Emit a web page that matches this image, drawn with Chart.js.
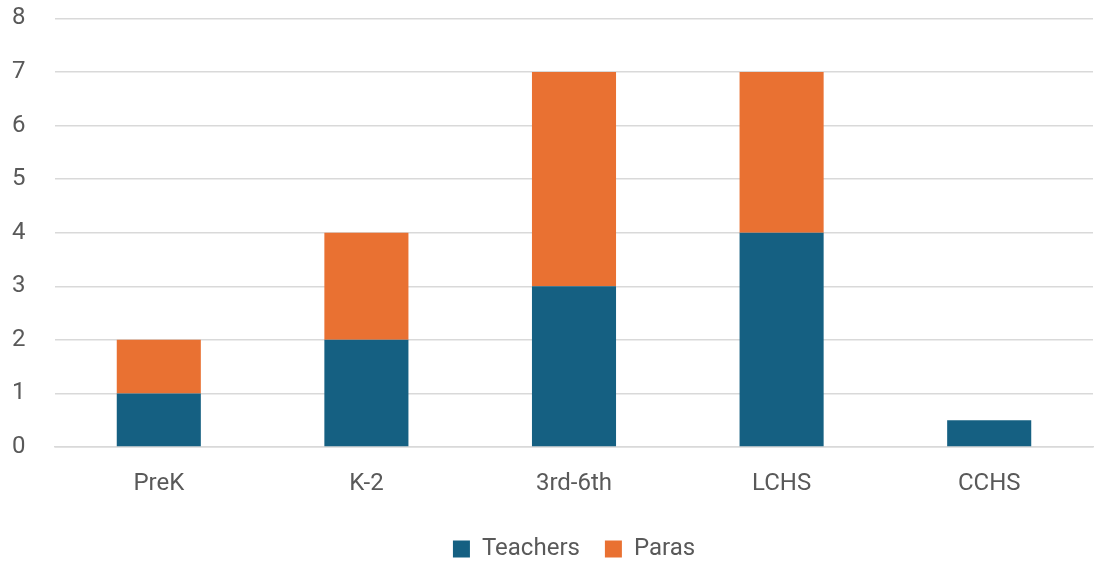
<!DOCTYPE html>
<html>
<head>
<meta charset="utf-8">
<script src="https://cdn.jsdelivr.net/npm/chart.js@4/dist/chart.umd.min.js"></script>
<style>
  html, body { margin: 0; padding: 0; background: #ffffff; }
  #wrap { width: 1097px; height: 561px; position: relative; }
</style>
</head>
<body>
<div id="wrap"><canvas id="staffChart"></canvas></div>
<script>
const categories = ['PreK', 'K-2', '3rd-6th', 'LCHS', 'CCHS'];
const teachers = [1, 2, 3, 4, 0.5];
const paras = [1, 2, 4, 3, 0];
const yTicks = [0, 1, 2, 3, 4, 5, 6, 7, 8];

const textColor = '#595959';
const gridColor = '#d9d9d9';
const legendPad = 25;

new Chart(document.getElementById('staffChart'), {
    type: 'bar',
    data: {
        labels: categories,
        datasets: [
            { label: 'Teachers', data: teachers, backgroundColor: '#156082' },
            { label: 'Paras', data: paras, backgroundColor: '#e97132' }
        ]
    },
    options: {
        responsive: true,
        maintainAspectRatio: false,
        animation: false,
        // legend adds 10px of its own below the items, pull it back down
        layout: { padding: { top: 0, right: 4, left: 12, bottom: -10 } },
        datasets: { bar: { categoryPercentage: 1, barPercentage: 0.405 } },
        plugins: {
            legend: {
                position: 'bottom',
                fullSize: false,
                labels: {
                    color: textColor,
                    font: { family: 'Roboto', size: 24 },
                    boxWidth: 17,
                    boxHeight: 17,
                    padding: legendPad
                }
            },
            tooltip: { enabled: false }
        },
        scales: {
            x: {
                stacked: true,
                grid: { display: false, drawTicks: false },
                border: { color: gridColor, width: 1.5 },
                afterFit: (axis) => { axis.height = 90 - legendPad; },
                ticks: { color: textColor, font: { family: 'Roboto', size: 24 }, padding: 23 }
            },
            y: {
                stacked: true,
                min: 0,
                max: 8,
                afterBuildTicks: (axis) => { axis.ticks = yTicks.map((v) => ({ value: v })); },
                afterFit: (axis) => { axis.width = 43; },
                grid: { color: gridColor, lineWidth: 1.5, drawTicks: false },
                border: { display: false },
                ticks: { color: textColor, font: { family: 'Roboto', size: 24 }, padding: 4, crossAlign: 'far' }
            }
        }
    }
});
</script>
</body>
</html>
